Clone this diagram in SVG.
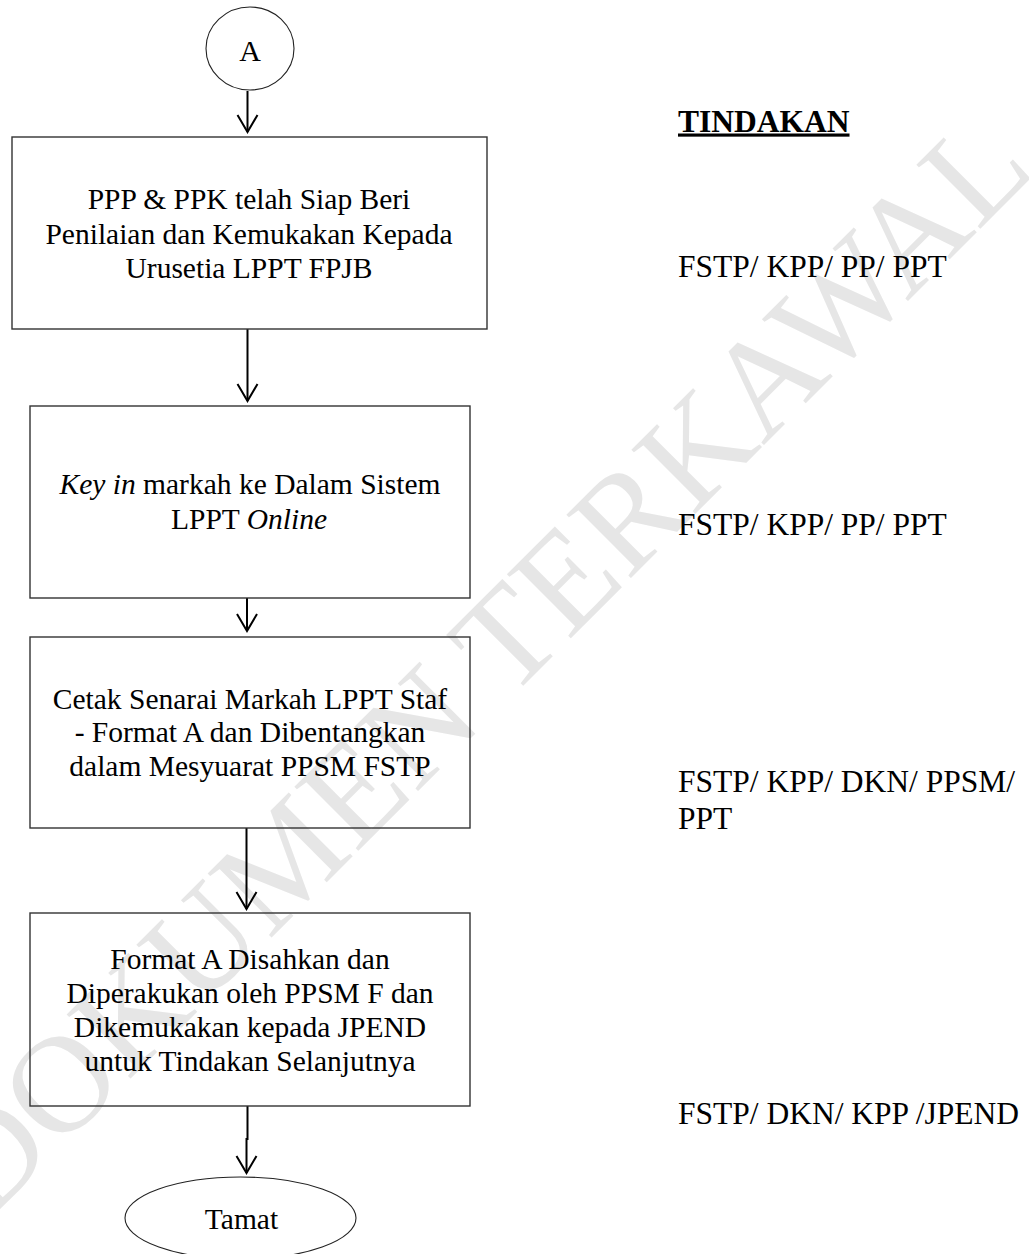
<svg xmlns="http://www.w3.org/2000/svg" width="1029" height="1254" viewBox="0 0 1029 1254">
  <style>
    .box { fill: none; stroke: #333; stroke-width: 1.4; }
    .term { fill: none; stroke: #222; stroke-width: 1.1; }
    .conn { fill: none; stroke: #000; stroke-width: 2; marker-end: url(#arr); }
    .t { font-family: "Liberation Serif", "Times New Roman", serif; font-size: 29.5px; fill: #000; text-anchor: middle; }
    .r { font-family: "Liberation Serif", "Times New Roman", serif; font-size: 31.5px; fill: #000; }
    .i { font-style: italic; }
    .wm { font-family: "Liberation Serif", "Times New Roman", serif; font-size: 138px; fill: #e6e6e6; text-anchor: middle; }
  </style>
  <defs>
    <marker id="arr" markerUnits="userSpaceOnUse" viewBox="-19 -12 21 24" markerWidth="21" markerHeight="24" refX="0" refY="0" orient="auto" overflow="visible">
      <path d="M-17,-10 L0,0 L-17,10" fill="none" stroke="#000" stroke-width="2"/>
    </marker>
  </defs>
  <rect width="1029" height="1254" fill="#fff"/>

  <g id="watermark">
    <text class="wm" transform="translate(512,697) rotate(-45)" x="0" y="0">DOKUMEN TERKAWAL</text>
  </g>

  <g id="connectors">
    <line class="conn" x1="247.5" y1="91" x2="247.5" y2="132"/>
    <line class="conn" x1="247.5" y1="329" x2="247.5" y2="401"/>
    <line class="conn" x1="247" y1="598" x2="247" y2="631"/>
    <line class="conn" x1="246.5" y1="828" x2="246.5" y2="909"/>
    <path class="conn" d="M247.5,1106 V1139 H246.5 V1173"/>
  </g>

  <g id="start">
    <ellipse class="term" cx="250" cy="48.5" rx="44" ry="41.5"/>
    <text class="t" x="250" y="61" style="font-size:30px">A</text>
  </g>

  <g id="step1">
    <rect class="box" x="12" y="137" width="475" height="192"/>
    <text class="t" x="249" y="209">PPP &amp; PPK telah Siap Beri</text>
    <text class="t" x="249" y="243.5">Penilaian dan Kemukakan Kepada</text>
    <text class="t" x="249" y="278">Urusetia LPPT FPJB</text>
  </g>

  <g id="step2">
    <rect class="box" x="30" y="406" width="440" height="192"/>
    <text class="t" x="250" y="494"><tspan class="i">Key in</tspan> markah ke Dalam Sistem</text>
    <text class="t" x="249" y="529">LPPT <tspan class="i">Online</tspan></text>
  </g>

  <g id="step3">
    <rect class="box" x="30" y="637" width="440" height="191"/>
    <text class="t" x="250" y="708.5">Cetak Senarai Markah LPPT Staf</text>
    <text class="t" x="250" y="742">- Format A dan Dibentangkan</text>
    <text class="t" x="250" y="776">dalam Mesyuarat PPSM FSTP</text>
  </g>

  <g id="step4">
    <rect class="box" x="30" y="913" width="440" height="193"/>
    <text class="t" x="250" y="968.5">Format A Disahkan dan</text>
    <text class="t" x="250" y="1002.5">Diperakukan oleh PPSM F dan</text>
    <text class="t" x="250" y="1036.5">Dikemukakan kepada JPEND</text>
    <text class="t" x="250" y="1070.5">untuk Tindakan Selanjutnya</text>
  </g>

  <g id="end">
    <ellipse class="term" cx="240.5" cy="1218" rx="115.5" ry="41"/>
    <text class="t" x="241.5" y="1228.5">Tamat</text>
  </g>

  <g id="tindakan">
    <text class="r" x="678" y="131.5" style="font-weight:bold;text-decoration:underline">TINDAKAN</text>
    <text class="r" x="678" y="277">FSTP/ KPP/ PP/ PPT</text>
    <text class="r" x="678" y="535">FSTP/ KPP/ PP/ PPT</text>
    <text class="r" x="678" y="792">FSTP/ KPP/ DKN/ PPSM/</text>
    <text class="r" x="678" y="828.5">PPT</text>
    <text class="r" x="678" y="1124">FSTP/ DKN/ KPP /JPEND</text>
  </g>
</svg>
